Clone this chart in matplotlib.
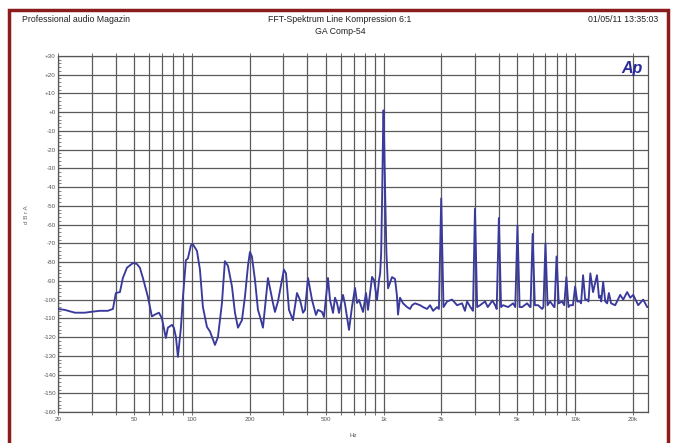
import numpy as np
import matplotlib
matplotlib.use("Agg")
import matplotlib.pyplot as plt
from matplotlib.patches import Rectangle
from matplotlib.ticker import FixedLocator, NullFormatter

plt.rcParams['font.family'] = ['Liberation Sans', 'DejaVu Sans']

# ── Daten ────────────────────────────────────────────────────────
freq_hz = [
    20, 21.7, 24.5, 27.6, 30, 33, 36.4, 38.7, 40.1, 42.1, 43.6, 45.8, 49.2,
    51.6, 53.5, 55.5, 58.9, 61.8, 64.1, 67.3, 69.7, 73.1, 74.9, 78.7, 80.5,
    82.5, 84.5, 87.6, 89.8, 93, 95.3, 98.8, 101.2, 106.2, 110.1, 114.1,
    119.8, 124.2, 131.9, 136.7, 143.4, 148.6, 154.2, 161.8, 167.7, 173.9,
    182.4, 189.1, 196.1, 200.8, 205.6, 213.3, 221.1, 226.4, 234.8, 249.3,
    264.8, 271.2, 281.2, 302, 309.6, 321, 336.8, 341, 353.4, 366.5, 380,
    389, 403.5, 423.4, 444, 455, 477.3, 488.9, 513, 525.6, 545, 558, 571.7,
    585.6, 614.4, 629.5, 660.4, 684.6, 709.9, 727.4, 745, 781.6, 810, 829.8,
    871, 891.7, 924.7, 947.4, 960, 972, 985, 995, 1000, 1005, 1018, 1035,
    1056, 1107, 1148, 1175, 1190, 1219, 1264, 1327, 1375, 1409, 1460, 1551,
    1608, 1687, 1749, 1814, 1902, 1945, 2000, 2055, 2146, 2279, 2420, 2570,
    2660, 2729, 2840, 2930, 3000, 3080, 3190, 3388, 3500, 3700, 3821, 3895,
    4000, 4105, 4207, 4467, 4744, 4870, 5000, 5130, 5285, 5612, 5822, 5850,
    6000, 6160, 6409, 6726, 6830, 7000, 7180, 7401, 7767, 7810, 8000, 8210,
    8548, 8770, 9000, 9230, 9411, 9740, 10000, 10260, 10620, 10740, 11000,
    11280, 11554, 11740, 12000, 12400, 13000, 13320, 13506, 13680, 14000,
    14360, 14690, 15000, 15400, 16180, 17180, 17815, 18684, 19380, 20100,
    21340, 22650, 23770, 24000,
]
pegel_db = [
    -105, -105.5, -107, -107, -106.5, -106, -106, -105, -96.5, -96, -88.5,
    -83, -80.5, -81, -83, -88.5, -98.5, -109, -108, -107, -110, -120.5,
    -115, -113.5, -115, -120, -130.6, -115, -98.5, -79, -78, -71, -70.5,
    -74, -84, -104, -114.6, -117, -124.2, -120, -102, -79.5, -82, -93, -107,
    -115, -111, -98.5, -82, -74.6, -77, -89.5, -105.5, -109, -115, -88.5,
    -101.8, -106.6, -101, -84, -86, -105.5, -111, -107, -96.5, -100.2, -107,
    -105.5, -88.5, -100.2, -108.2, -105.5, -106.6, -109.3, -88.5, -100.2,
    -107.1, -99, -101.8, -107.1, -97.5, -102.5, -116.2, -103.8, -93.8,
    -101.8, -100.2, -106.6, -96.5, -105.5, -87.9, -89.5, -100.2, -89.5,
    -86, -75, -40, -8, 1, -8, -40, -75,
    -94, -88, -89, -98, -108, -99, -102, -104, -105, -103, -102, -103,
    -104, -105, -103, -106, -104, -105, -46, -104, -101, -100, -103, -102,
    -106, -101, -104, -106, -51.5, -104, -103, -101, -104, -100.5, -103, -105,
    -56.5, -104, -103, -104, -102, -104, -60.5, -104, -104, -102, -104, -104,
    -65, -103, -103, -105, -104, -70, -103, -101, -104, -104, -77, -102,
    -101, -103, -88, -104, -103, -103, -93, -101, -101, -102, -87,
    -100, -100, -101, -86, -96, -87, -99, -98, -101, -90.5,
    -101, -102, -96.5, -102, -103, -97.5, -100, -96, -99, -97.5,
    -103, -100, -104, -104,
]

x_major = [20, 50, 100, 200, 500, 1000, 2000, 5000, 10000, 20000]
x_major_labels = ["20", "50", "100", "200", "500", "1k", "2k", "5k", "10k", "20k"]
x_minor = [30, 40, 60, 70, 80, 90, 300, 400, 600, 700, 800, 900,
           3000, 4000, 6000, 7000, 8000, 9000]
y_major = list(range(30, -161, -10))
y_major_labels = [("+%d" % v) if v >= 0 else ("%d" % v) for v in y_major]

# ── Figur ─────────────────────────────────────────────────────────
fig = plt.figure(figsize=(6.73, 4.43), dpi=100)
fig.patch.set_facecolor("white")

# roter Rahmen
fig.patches.append(Rectangle((8.5 / 673, -0.05), (668 - 8.5) / 673, 1.05 - 10 / 443,
                             transform=fig.transFigure, fill=False,
                             edgecolor="#8a1c1c", linewidth=2.5))

ax = fig.add_axes([58 / 673, 1 - 412 / 443, (648 - 58) / 673, (412 - 56) / 443])
ax.set_xscale("log")
ax.set_xlim(20, 24000)
ax.set_ylim(-160, 30)

ax.plot(freq_hz, pegel_db, color="#3a3a9c", linewidth=1.35, zorder=3)

ax.xaxis.set_major_locator(FixedLocator(x_major))
ax.set_xticklabels(x_major_labels)
ax.xaxis.set_minor_locator(FixedLocator(x_minor))
ax.xaxis.set_minor_formatter(NullFormatter())
ax.set_yticks(y_major)
ax.set_yticklabels(y_major_labels)
ax.yaxis.set_minor_locator(FixedLocator(list(range(-160, 31, 2))))

ax.grid(True, which="major", axis="both", color="#5a5a5a", linewidth=0.9)
ax.grid(True, which="minor", axis="x", color="#5a5a5a", linewidth=0.9)

ax.tick_params(axis="both", which="both", labelsize=4.5, labelcolor="#555555",
               color="#555555", pad=1.5)
ax.tick_params(axis="y", which="minor", direction="in", length=2, width=0.5)
ax.tick_params(axis="y", which="major", direction="in", length=3, width=0.6)
ax.tick_params(axis="x", which="both", direction="out", length=2, width=0.6,
               top=True)
for s in ax.spines.values():
    s.set_color("#555555")
    s.set_linewidth(0.9)

ax.text(0.5, -0.06, "Hz", transform=ax.transAxes, fontsize=4.5,
        color="#555555", ha="center", va="top")
fig.text(26 / 673, 1 - 215 / 443, "d B r A", rotation=90, fontsize=4.5,
         color="#666666", ha="center", va="center")

# Kopfzeile
fig.text(22 / 673, 1 - 20 / 443, "Professional audio Magazin", fontsize=6.3,
         ha="left", va="center", color="#222222")
fig.text(340 / 673, 1 - 20 / 443, "FFT-Spektrum Line Kompression 6:1",
         fontsize=6.3, ha="center", va="center", color="#222222")
fig.text(340 / 673, 1 - 32 / 443, "GA Comp-54", fontsize=6.3,
         ha="center", va="center", color="#222222")
fig.text(658 / 673, 1 - 20 / 443, "01/05/11 13:35:03", fontsize=6.3,
         ha="right", va="center", color="#222222")

# Ap-Logo
ax.text(0.99, 0.985, "Ap", transform=ax.transAxes, fontsize=11.5,
        fontweight="bold", fontstyle="italic", color="#2a2a9a",
        ha="right", va="top", zorder=4)

fig.savefig("out.png", dpi=100)
